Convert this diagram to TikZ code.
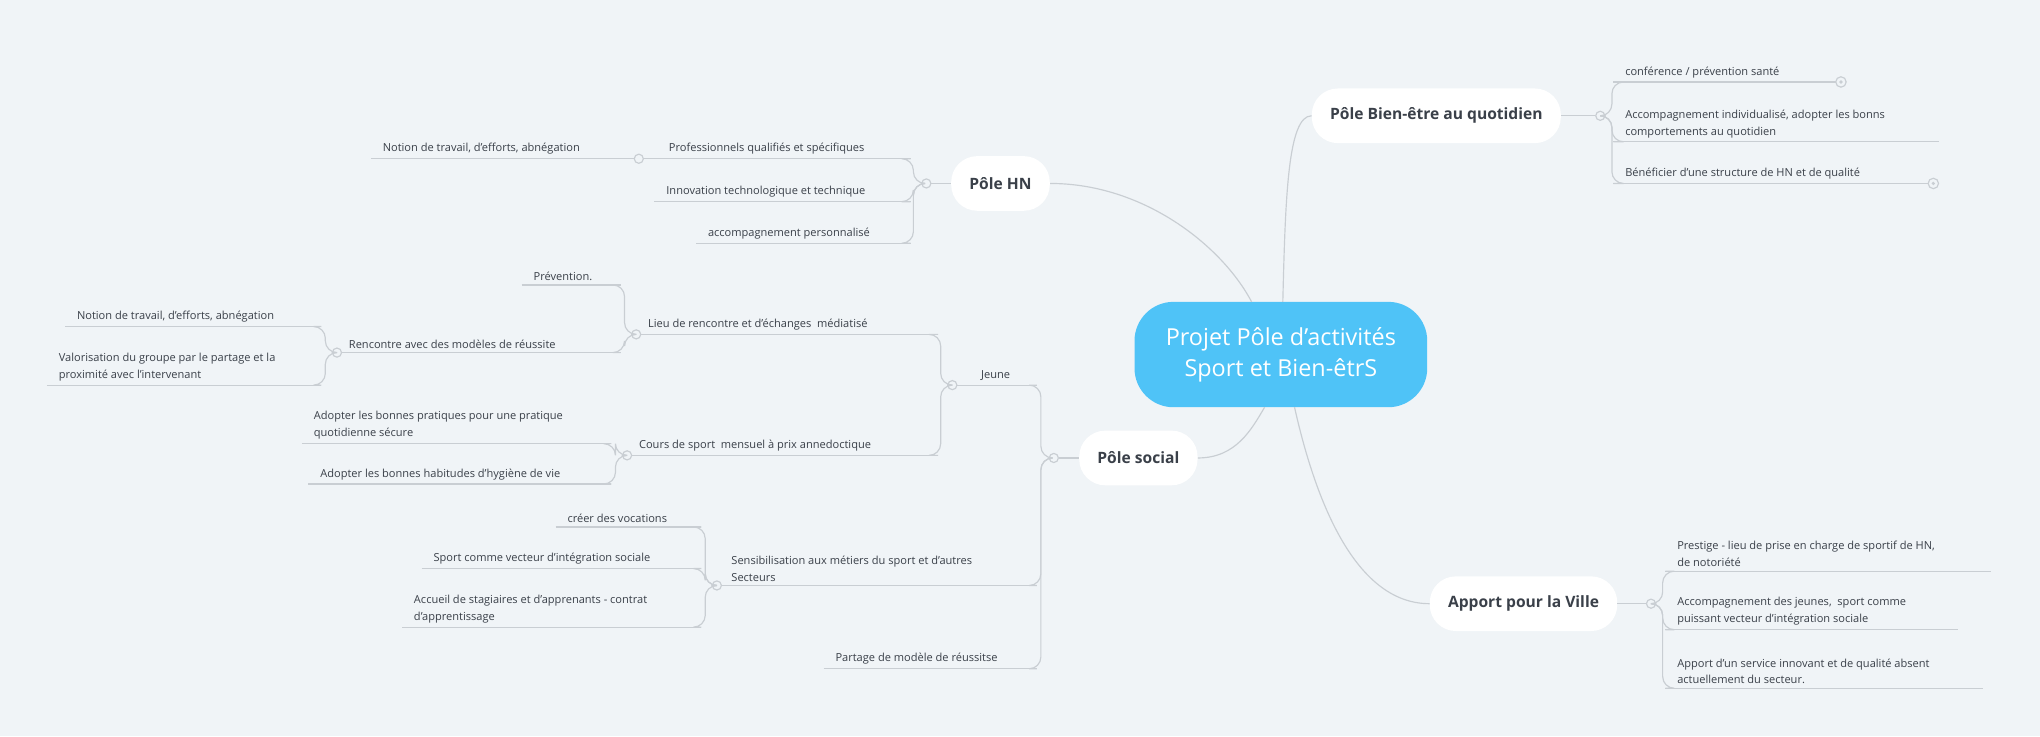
\documentclass[tikz,border=0pt]{standalone}
\usepackage{fontspec}
\setmainfont{Open Sans}
\definecolor{bg}{HTML}{F0F4F7}
\definecolor{ln}{HTML}{C9CED3}
\definecolor{txt}{HTML}{3A4049}
\definecolor{ctr}{HTML}{4FC3F7}
\tikzset{
  ul/.style={draw=ln, line width=0.9pt},
  cn/.style={draw=ln, line width=0.9pt, rounded corners=9pt},
  lbl/.style={font=\fontsize{8.5}{13}\selectfont, text=txt, inner sep=0pt, align=left, anchor=south west},
  jc/.style={circle, draw=ln, fill=bg, line width=0.9pt, minimum size=7pt, inner sep=0pt},
  pill/.style={rounded corners=20pt, fill=white, text=txt, font=\fontsize{12}{14}\selectfont\bfseries, minimum height=42pt, inner xsep=14pt},
}
\newcommand{\itm}[5]{%
  \coordinate (#1-l) at (#2,#4); \coordinate (#1-r) at (#3,#4);
  \draw[ul] (#1-l) -- (#1-r);
  \node[lbl] (#1) at ({#2+9},{#4-3}) {#5};}
\begin{document}
\begin{tikzpicture}[x=1pt,y=-1pt]
\fill[bg] (0,0) rectangle (1568,566);
\useasboundingbox (0,0) rectangle (1568,566);
% center
\node[fill=ctr, rounded corners=30pt, minimum width=225pt, minimum height=81pt, text=white, font=\fontsize{18}{24}\selectfont, align=center] (c) at (984.5,272.5) {Projet Pôle d'activités\\Sport et Bien-êtrS};
% main nodes
\node[pill] (hn) at (769,141) {Pôle HN};
\node[pill] (soc) at (875,352) {Pôle social};
\node[pill] (be) at (1104,89) {Pôle Bien-être au quotidien};
\node[pill] (vil) at (1171,464) {Apport pour la Ville};
\draw[ul] (hn.east) .. controls (880,141) and (940,190) .. (962,232);
\draw[ul] (soc.east) .. controls (950,352) and (962,330) .. (972,313);
\draw[ul] (be.west) .. controls (990,89) and (988,150) .. (986,232);
\draw[ul] (vil.west) .. controls (1040,464) and (1010,380) .. (995,313);
% ---------- Pôle HN
\node[jc] (jhn) at (712,141) {};
\draw[ul] (hn.west) -- (jhn);
\itm{p1}{505}{700}{122}{Professionnels qualifiés et spécifiques}
\itm{p2}{503}{700}{155}{Innovation technologique et technique}
\itm{p3}{535}{700}{187}{accompagnement personnalisé}
\foreach \n in {p1,p2,p3} \draw[cn] (jhn.west) -- ++(-6,0) |- (\n-r);
\node[jc] (jp1) at (491,122) {};
\itm{p11}{285}{488}{122}{Notion de travail, d'efforts, abnégation}
\draw[ul] (jp1) -- (p1-l);
% ---------- Pôle social
\node[jc] (jsoc) at (810,352) {};
\draw[ul] (soc.west) -- (jsoc);
\itm{s1}{732}{797}{296}{\hspace{13pt}Jeune}
\itm{s2}{553}{797}{450}{Sensibilisation aux métiers du sport et d'autres\\Secteurs}
\itm{s3}{633}{797}{514}{Partage de modèle de réussitse}
\foreach \n in {s1,s2,s3} \draw[cn] (jsoc.west) -- ++(-6,0) |- (\n-r);
% Jeune
\node[jc] (jj) at (732,296) {};
\itm{j1}{489}{721}{257}{Lieu de rencontre et d'échanges\ \ médiatisé}
\itm{j2}{482}{721}{350}{Cours de sport\ \ mensuel à prix annedoctique}
\foreach \n in {j1,j2} \draw[cn] (jj.west) -- ++(-5,0) |- (\n-r);
% Lieu
\node[jc] (jl) at (489,257) {};
\itm{l1}{401}{477}{219}{Prévention.}
\itm{l2}{259}{477}{271}{Rencontre avec des modèles de réussite}
\foreach \n in {l1,l2} \draw[cn] (jl.west) -- ++(-5,0) |- (\n-r);
\node[jc] (jr) at (259,271) {};
\itm{r1}{50}{247}{251}{Notion de travail, d'efforts, abnégation}
\itm{r2}{36}{247}{296}{Valorisation du groupe par le partage et la\\proximité avec l'intervenant}
\foreach \n in {r1,r2} \draw[cn] (jr.west) -- ++(-5,0) |- (\n-r);
% Cours
\node[jc] (jco) at (482,350) {};
\itm{c1}{232}{470}{341}{Adopter les bonnes pratiques pour une pratique\\quotidienne sécure}
\itm{c2}{237}{470}{372}{Adopter les bonnes habitudes d'hygiène de vie}
\foreach \n in {c1,c2} \draw[cn] (jco.west) -- ++(-5,0) |- (\n-r);
% Sensibilisation
\node[jc] (jse) at (551,450) {};
\itm{e1}{427}{539}{405}{créer des vocations}
\itm{e2}{324}{539}{437}{Sport comme vecteur d'intégration sociale}
\itm{e3}{309}{539}{482}{Accueil de stagiaires et d'apprenants - contrat\\d'apprentissage}
\foreach \n in {e1,e2,e3} \draw[cn] (jse.west) -- ++(-5,0) |- (\n-r);
% ---------- Bien-être
\node[jc] (jbe) at (1230,89) {};
\draw[ul] (be.east) -- (jbe);
\itm{b1}{1240}{1411}{63}{conférence / prévention santé}
\itm{b2}{1240}{1490}{109}{Accompagnement individualisé, adopter les bonns\\comportements au quotidien}
\itm{b3}{1240}{1482}{141}{Bénéficier d'une structure de HN et de qualité}
\foreach \n in {b1,b2,b3} \draw[cn] (jbe.east) -- ++(5,0) |- (\n-l);
\node[jc, minimum size=8pt] (o1) at (1415,63) {};
\fill[ln] (o1) circle (1.4pt);
\node[jc, minimum size=8pt] (o2) at (1486,141) {};
\fill[ln] (o2) circle (1.4pt);
% ---------- Ville
\node[jc] (jv) at (1269,464) {};
\draw[ul] (vil.east) -- (jv);
\itm{v1}{1280}{1530}{439}{Prestige - lieu de prise en charge de sportif de HN,\\de notoriété}
\itm{v2}{1280}{1505}{484}{Accompagnement des jeunes,\ \ sport comme\\puissant vecteur d'intégration sociale}
\itm{v3}{1280}{1524}{529}{Apport d'un service innovant et de qualité absent\\actuellement du secteur.}
\foreach \n in {v1,v2,v3} \draw[cn] (jv.east) -- ++(5,0) |- (\n-l);
\end{tikzpicture}
\end{document}
